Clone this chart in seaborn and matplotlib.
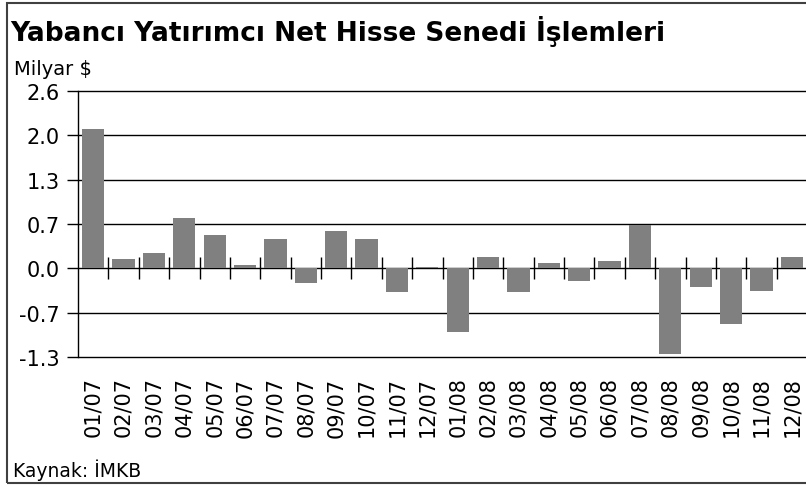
import numpy as np
import matplotlib
matplotlib.use("Agg")
import matplotlib.pyplot as plt
import seaborn as sns
from matplotlib.patches import Rectangle

months = ["01/07", "02/07", "03/07", "04/07", "05/07", "06/07", "07/07", "08/07",
          "09/07", "10/07", "11/07", "12/07", "01/08", "02/08", "03/08", "04/08",
          "05/08", "06/08", "07/08", "08/08", "09/08", "10/08", "11/08", "12/08"]
net_flows = [2.04, 0.14, 0.22, 0.74, 0.49, 0.05, 0.43, -0.21,
             0.55, 0.43, -0.34, 0.02, -0.93, 0.17, -0.34, 0.08,
             -0.18, 0.11, 0.63, -1.26, -0.27, -0.81, -0.33, 0.17]
ytick_values = [-1.3, -0.65, 0.0, 0.65, 1.3, 1.95, 2.6]
ytick_labels = ["-1.3", "-0.7", "0.0", "0.7", "1.3", "2.0", "2.6"]

sns.set_style("white")
plt.rcParams["font.family"] = ["DejaVu Sans"]
plt.rcParams["text.color"] = "black"
plt.rcParams["xtick.color"] = "black"
plt.rcParams["ytick.color"] = "black"

W, H = 806, 489
fig = plt.figure(figsize=(W / 100, H / 100), dpi=100)
ax = fig.add_axes([78 / W, 1 - 358 / H, 729 / W, 266 / H])

sns.barplot(x=months, y=net_flows, color="#808080", saturation=1,
            width=0.73, linewidth=0, ax=ax)

ax.set_ylim(ytick_values[0], ytick_values[-1])
ax.set_xlim(-0.5, len(months) - 0.5)
ax.set_yticks(ytick_values, ytick_labels)
ax.yaxis.grid(True, color="black", linewidth=1)
ax.xaxis.grid(False)
ax.set_axisbelow(True)
for gl in ax.get_ygridlines():
    gl.set_clip_on(False)
for side in ["top", "right", "bottom"]:
    ax.spines[side].set_visible(False)
ax.spines["left"].set_color("black")
ax.spines["left"].set_linewidth(1)
ax.tick_params(axis="y", left=True, length=8, width=1, color="black",
               direction="out", pad=5, labelsize=15, labelcolor="black")
ax.tick_params(axis="x", bottom=False, length=0, pad=14, labelsize=15,
               labelrotation=90, labelcolor="black")
ax.set_xlabel("")
ax.set_ylabel("")

# category separators sitting on the zero line
sec = ax.secondary_xaxis(0, transform=ax.transData)
sec.set_xticks(np.arange(len(months) - 1) + 0.5)
sec.set_xticklabels([])
sec.tick_params(direction="inout", length=16, width=1, color="black")
sec.spines["bottom"].set_visible(False)

fig.text(10 / W, 1 - 41 / H, "Yabancı Yatırımcı Net Hisse Senedi İşlemleri",
         fontsize=19, fontweight="bold", va="baseline", ha="left", color="black")
fig.text(14 / W, 1 - 75 / H, "Milyar $", fontsize=14, va="baseline", ha="left",
         color="black")
fig.text(13 / W, 1 - 477 / H, "Kaynak: İMKB", fontsize=13.5,
         va="baseline", ha="left", color="black")

fig.patches.append(Rectangle((7 / W, 1 - 484 / H), 1.0, 480 / H,
                             transform=fig.transFigure, fill=False,
                             edgecolor="#404040", linewidth=1.5))

fig.savefig("out.png", dpi=100)
